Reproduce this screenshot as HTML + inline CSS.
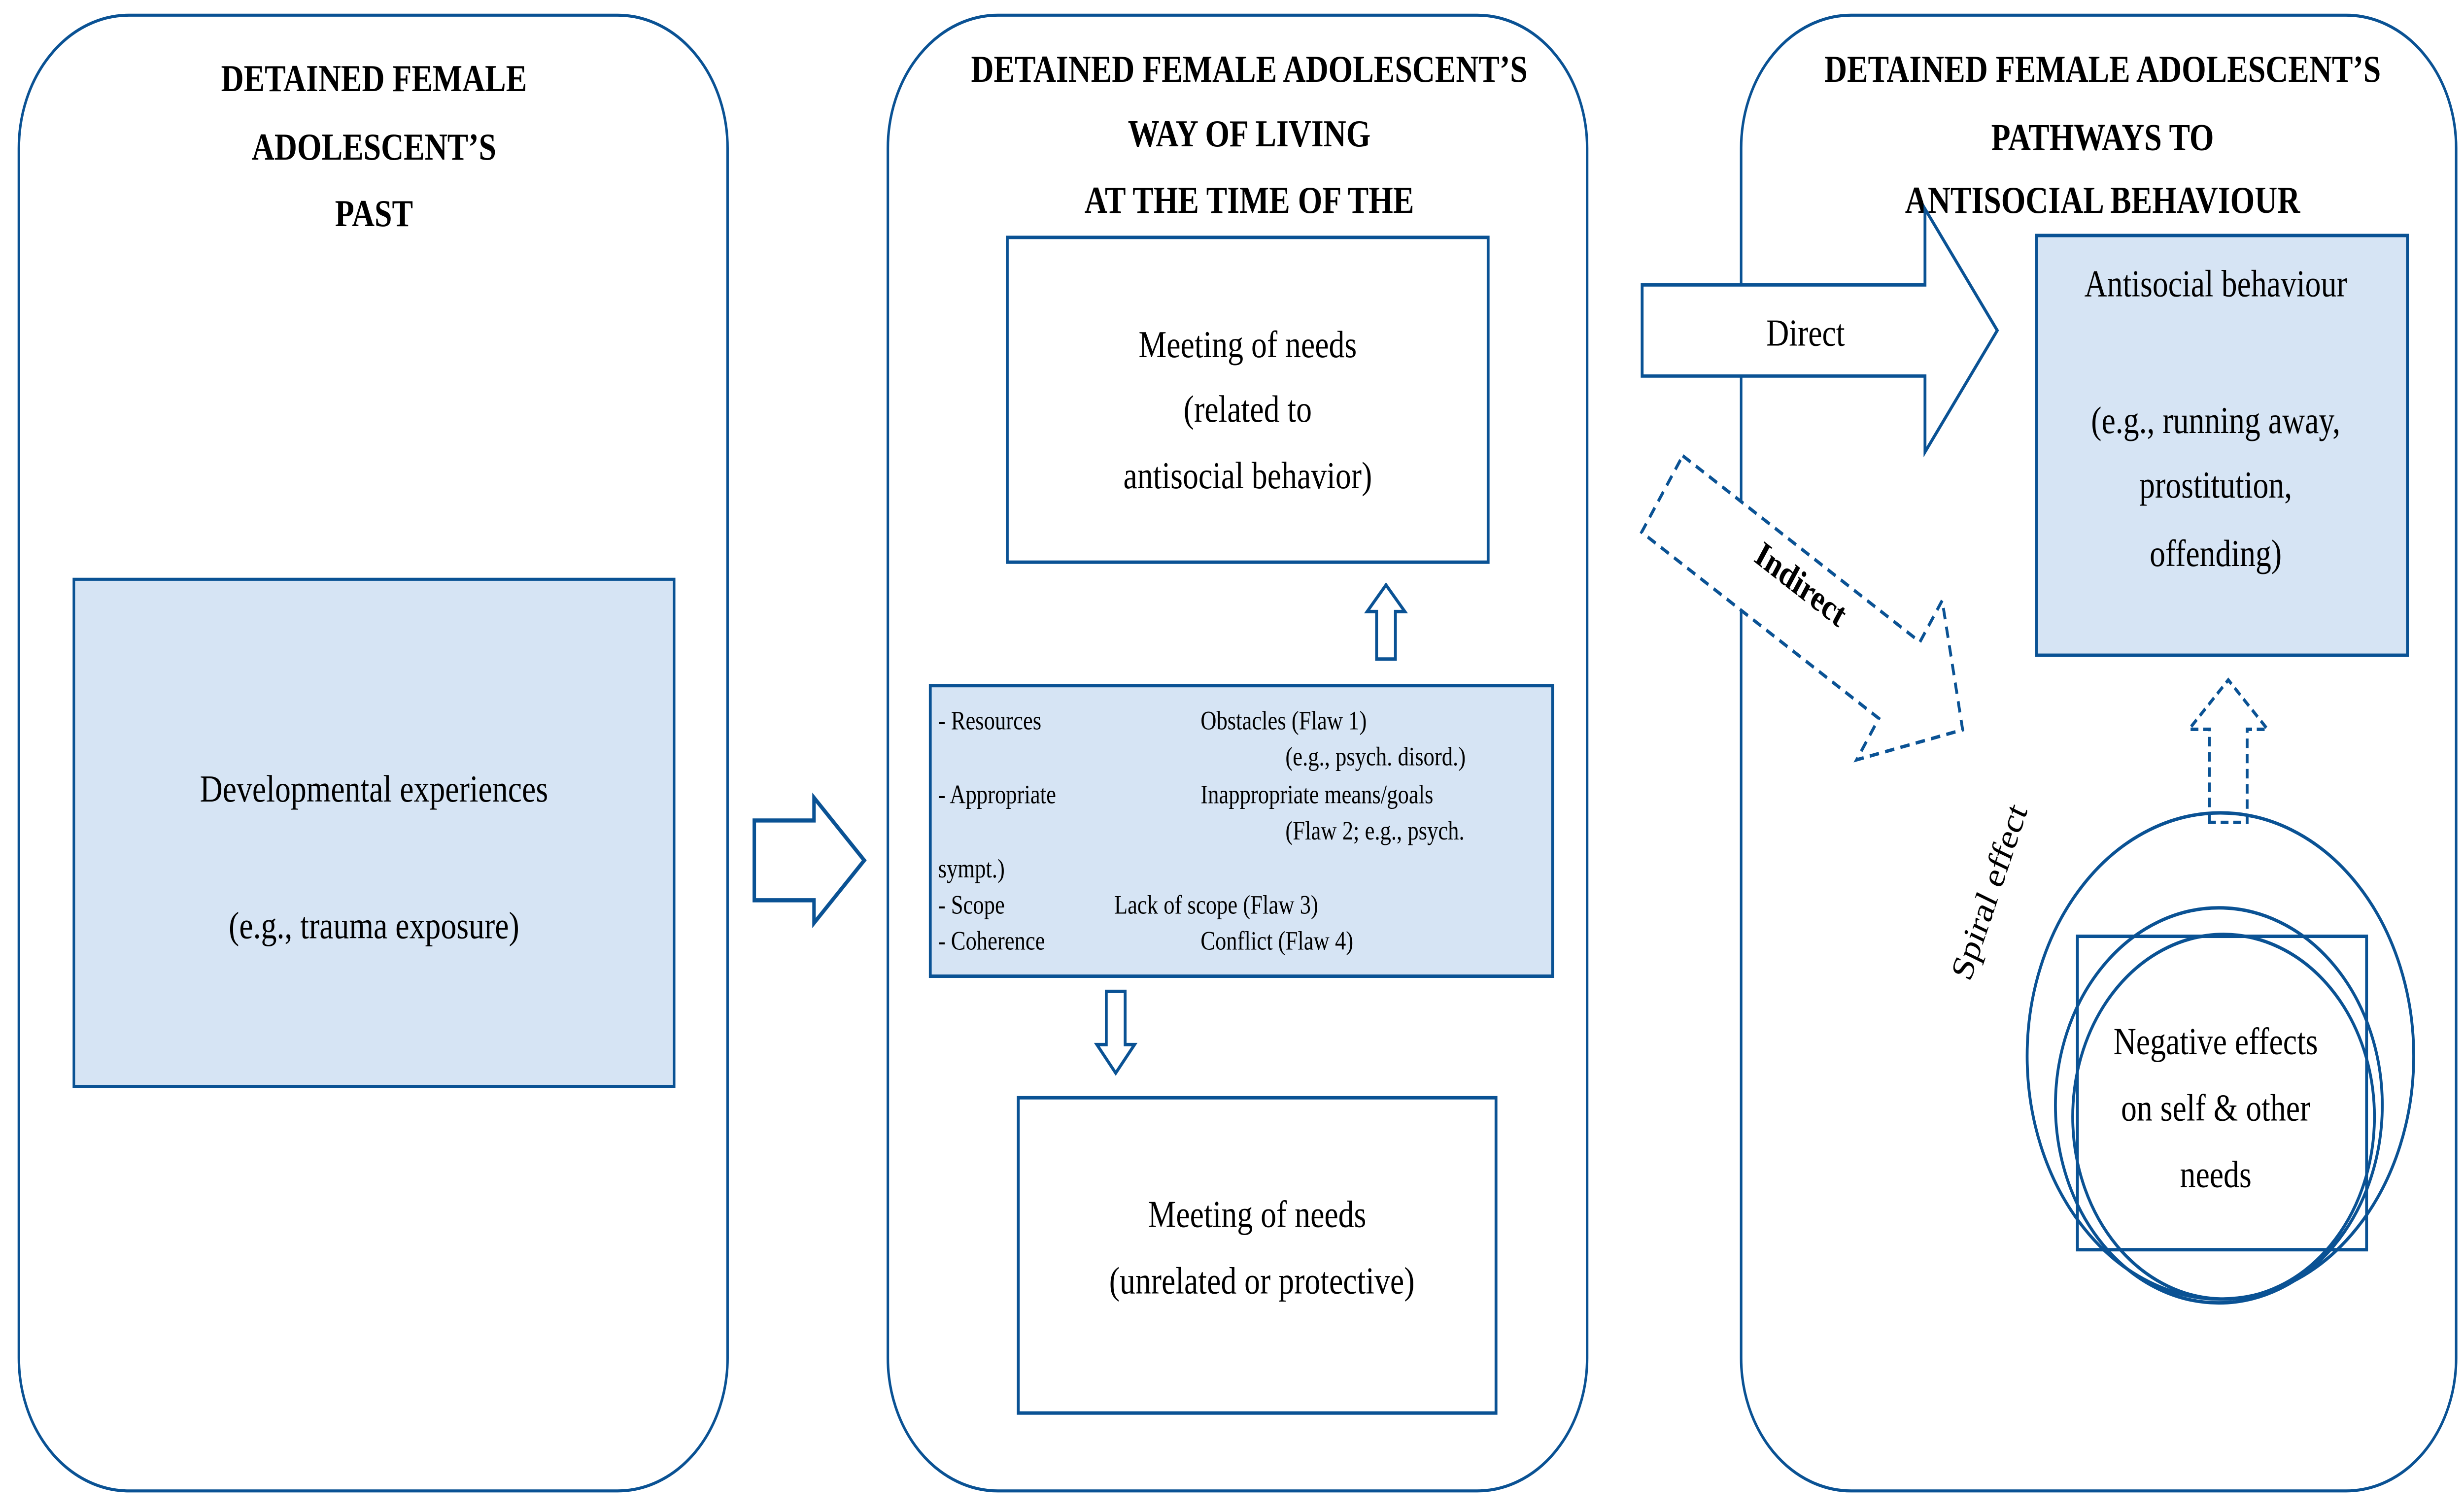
<!DOCTYPE html>
<html><head><meta charset="utf-8"><style>
html,body{margin:0;padding:0;background:#fff;width:100%;height:100%;overflow:hidden;}
svg{display:block;position:absolute;left:0;top:0;width:100vw;height:100vh;}
text{font-family:"Liberation Serif",serif;fill:#000;}
.t{font-weight:bold;font-size:20px;text-anchor:middle;}
.m{font-size:20px;text-anchor:middle;}
.s{font-size:14px;}
</style></head><body>
<svg viewBox="0 0 1568 794" preserveAspectRatio="none" xmlns="http://www.w3.org/2000/svg">
<g fill="none" stroke="#0a5294" stroke-width="1.6">
<rect x="12" y="8" width="451" height="777" rx="70"/>
<rect x="565" y="8" width="445" height="777" rx="70"/>
<rect x="1108" y="8" width="455" height="777" rx="70"/>
</g>
<text class="t" x="238" y="48">DETAINED FEMALE</text>
<text class="t" x="238" y="84">ADOLESCENT’S</text>
<text class="t" x="238" y="119">PAST</text>
<text class="t" x="795" y="43">DETAINED FEMALE ADOLESCENT’S</text>
<text class="t" x="795" y="77">WAY OF LIVING</text>
<text class="t" x="795" y="112">AT THE TIME OF THE</text>
<text class="t" x="1338" y="43">DETAINED FEMALE ADOLESCENT’S</text>
<text class="t" x="1338" y="79">PATHWAYS TO</text>
<text class="t" x="1338" y="112">ANTISOCIAL BEHAVIOUR</text>

<rect x="47" y="305" width="382" height="267" fill="#d6e4f4" stroke="#0a5294" stroke-width="1.6"/>
<text class="m" x="238" y="422">Developmental experiences</text>
<text class="m" x="238" y="494">(e.g., trauma exposure)</text>

<path d="M480 432 H518 V420 L550 453 L518 486 V474 H480 Z" fill="#fff" stroke="#0a5294" stroke-width="2.2"/>

<rect x="641" y="125" width="306" height="171" fill="#fff" stroke="#0a5294" stroke-width="1.8"/>
<text class="m" x="794" y="188">Meeting of needs</text>
<text class="m" x="794" y="222">(related to</text>
<text class="m" x="794" y="257">antisocial behavior)</text>

<path d="M876 347 V322 H870 L882 308 L894 322 H888 V347 Z" fill="#fff" stroke="#0a5294" stroke-width="1.8"/>

<rect x="592" y="361" width="396" height="153" fill="#d6e4f4" stroke="#0a5294" stroke-width="1.8"/>
<text class="s" x="597" y="384">- Resources</text>
<text class="s" x="764" y="384">Obstacles (Flaw 1)</text>
<text class="s" x="818" y="403">(e.g., psych. disord.)</text>
<text class="s" x="597" y="423">- Appropriate</text>
<text class="s" x="764" y="423">Inappropriate means/goals</text>
<text class="s" x="818" y="442">(Flaw 2; e.g., psych.</text>
<text class="s" x="597" y="462">sympt.)</text>
<text class="s" x="597" y="481">- Scope</text>
<text class="s" x="709" y="481">Lack of scope (Flaw 3)</text>
<text class="s" x="597" y="500">- Coherence</text>
<text class="s" x="764" y="500">Conflict (Flaw 4)</text>

<path d="M704 522 V550 H698 L710 565 L722 550 H716 V522 Z" fill="#fff" stroke="#0a5294" stroke-width="1.8"/>

<rect x="648" y="578" width="304" height="166" fill="#fff" stroke="#0a5294" stroke-width="1.8"/>
<text class="m" x="800" y="646">Meeting of needs</text>
<text class="m" x="803" y="681">(unrelated or protective)</text>

<path d="M1045 150 H1225 V110 L1271 174 L1225 238 V198 H1045 Z" fill="#fff" stroke="#0a5294" stroke-width="1.8"/>
<text class="m" x="1149" y="182">Direct</text>

<g transform="translate(1150 320) rotate(33)">
<path d="M-110 -24 H70 V-50 L118 0 L70 50 V24 H-110 Z" fill="#fff" stroke="#0a5294" stroke-width="1.8" stroke-dasharray="6 4"/>
<text class="m" x="-10" y="-2" style="font-weight:bold;font-size:19px">Indirect</text>
</g>

<rect x="1296" y="124" width="236" height="221" fill="#d6e4f4" stroke="#0a5294" stroke-width="1.8"/>
<text class="m" x="1410" y="156">Antisocial behaviour</text>
<text class="m" x="1410" y="228">(e.g., running away,</text>
<text class="m" x="1410" y="262">prostitution,</text>
<text class="m" x="1410" y="298">offending)</text>

<path d="M1406 433 V384 H1393 L1418 358 L1443 384 H1430 V433 Z" fill="#fff" stroke="#0a5294" stroke-width="1.8" stroke-dasharray="5 3"/>

<g fill="none" stroke="#0a5294" stroke-width="1.8">
<ellipse cx="1413" cy="556" rx="123" ry="128"/>
<circle cx="1412" cy="582" r="104"/>
<circle cx="1415" cy="588" r="96"/>
<rect x="1322" y="493" width="184" height="165"/>
</g>
<text class="m" x="1410" y="555">Negative effects</text>
<text class="m" x="1410" y="590">on self &amp; other</text>
<text class="m" x="1410" y="625">needs</text>
<text class="m" transform="translate(1272 472) rotate(-68)" x="0" y="0">Spiral effect</text>
</svg>
</body></html>
